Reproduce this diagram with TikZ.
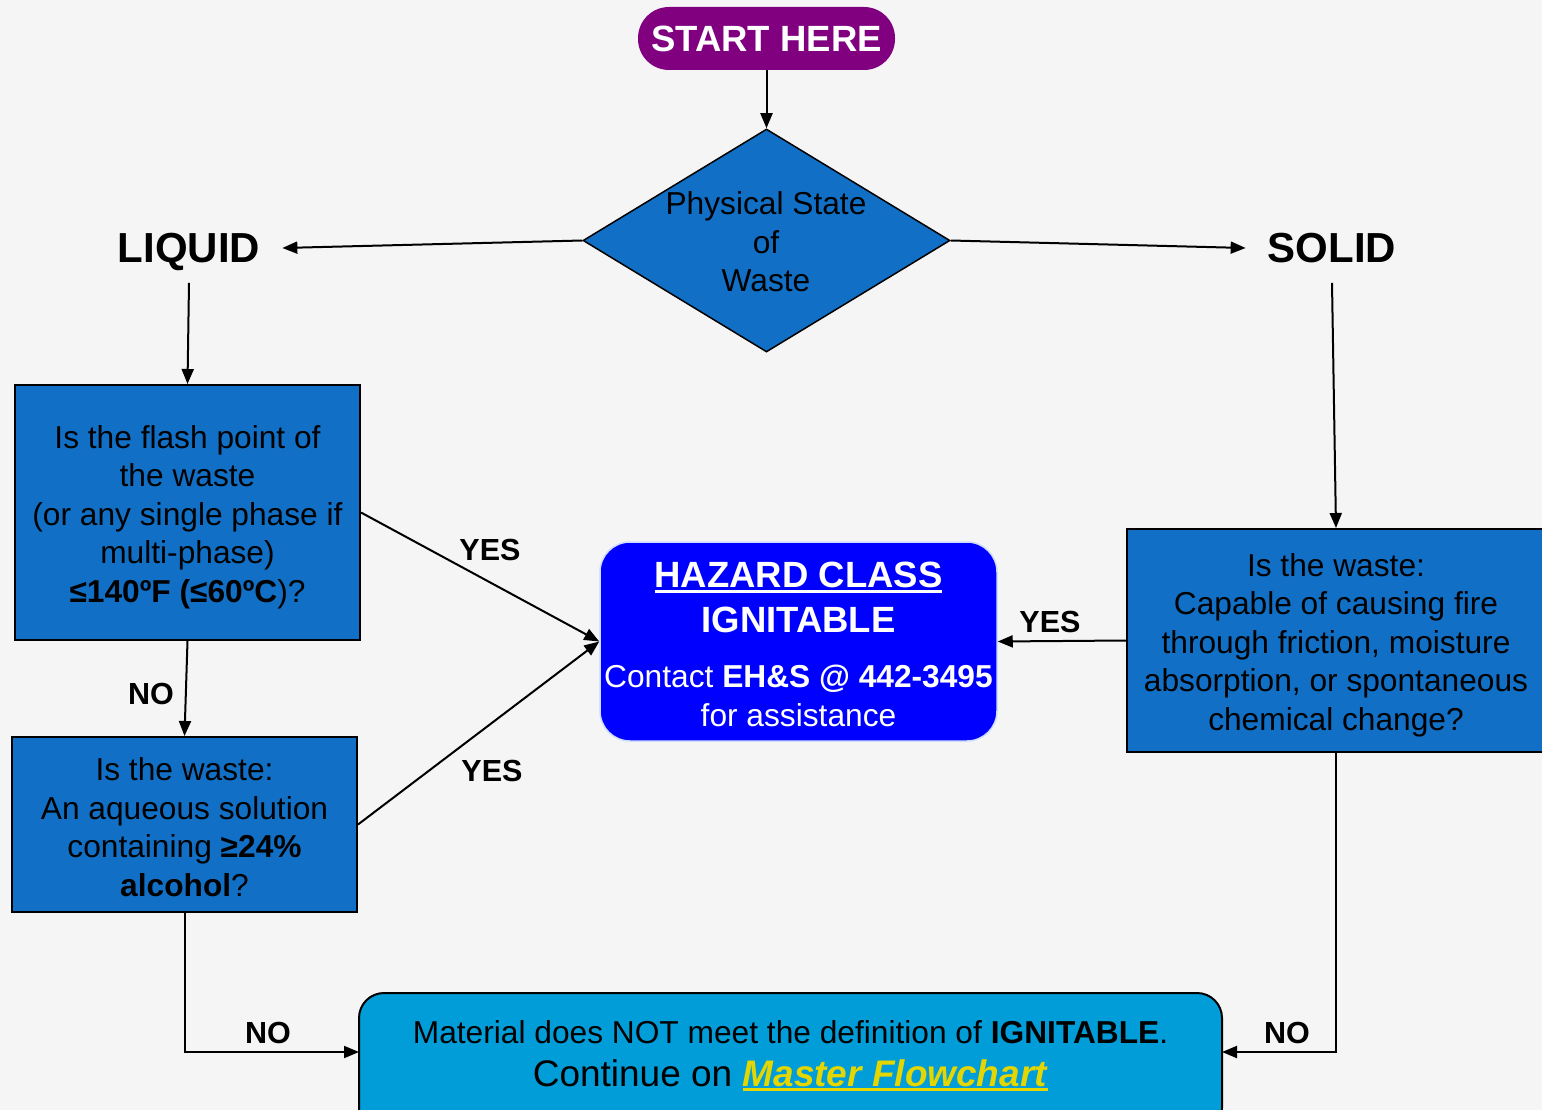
\documentclass[tikz,border=0pt]{standalone}
\usepackage{fontspec}
\setmainfont{Liberation Sans}
\usetikzlibrary{arrows.meta,shapes.geometric}
\definecolor{boxblue}{RGB}{17,112,198}
\definecolor{hazblue}{RGB}{0,0,255}
\definecolor{hazline}{RGB}{205,220,255}
\definecolor{botblue}{RGB}{0,157,217}
\definecolor{startpurple}{RGB}{128,0,128}
\definecolor{linkyellow}{RGB}{228,214,0}
\definecolor{bggray}{RGB}{245,245,245}
\newcommand\thickul[1]{\setbox0\hbox{#1}\rlap{\rule[-5pt]{\wd0}{3pt}}\box0}
\newcommand\bodyfont{\fontsize{31.7}{38.5}\selectfont}
\newcommand\bigfont{\fontsize{36.5}{38}\selectfont\bfseries}
\begin{document}
\begin{tikzpicture}[x=1pt,y=-1pt,
  conn/.style={line width=2pt, -{Triangle[length=15pt,width=12pt]}},
  qbox/.style={draw=black, line width=2pt, fill=boxblue, inner sep=0pt, align=center, font=\bodyfont},
  lbl/.style={font=\fontsize{30.5}{36}\selectfont\bfseries, inner sep=0pt},
  statelbl/.style={font=\fontsize{42}{48}\selectfont\bfseries, text depth=0pt, inner xsep=22pt, inner ysep=20pt}]
\useasboundingbox (0,0) rectangle (1542,1110);
\fill[bggray] (0,0) rectangle (1542,1110);

\node[fill=startpurple, rounded corners=31pt, minimum width=257pt, minimum height=63pt, inner sep=0pt, text=white, font=\bigfont] (start) at (766.5,38.5) {START HERE};

\node[diamond, draw=black, line width=1.5pt, fill=boxblue, minimum width=367pt, minimum height=223pt, inner sep=0pt] (dia) at (766.5,240.5) {};
\node[align=center, font=\bodyfont, inner sep=0pt] (diatext) at (766,242) {Physical State\\of\\Waste};

\node[statelbl] (liq) at (189,248) {LIQUID};
\node[statelbl] (sol) at (1332,248) {SOLID};

\node[qbox, minimum width=345pt, minimum height=255pt] (q1) at (187.5,512.5)
  {\rule{0pt}{32pt}Is the flash point of\\the waste\\(or any single phase if\\multi-phase)\\\textbf{≤140ºF (≤60ºC}{)?}};
\node[qbox, minimum width=345pt, minimum height=175pt] (q2) at (184.5,824.5)
  {\rule{0pt}{28pt}Is the waste:\\An aqueous solution\\containing \textbf{≥24\%}\\\textbf{alcohol}?};
\node[qbox, minimum width=418pt, minimum height=223pt] (rq) at (1336,640.5)
  {\rule{0pt}{32pt}Is the waste:\\Capable of causing fire\\through friction, moisture\\absorption, or spontaneous\\chemical change?};

\node[draw=hazline, line width=1.5pt, fill=hazblue, rounded corners=30pt, minimum width=397pt, minimum height=199pt, inner sep=0pt, align=center, text=white, font=\bodyfont] (haz) at (798.5,641.5)
  {{\bigfont\rule{0pt}{31pt}\thickul{HAZARD CLASS}}\\[6.5pt]{\bigfont IGNITABLE}\\[16.5pt]Contact \textbf{EH\&S @ 442-3495}\\for assistance};

\node[draw=black, line width=2pt, fill=botblue, rounded corners=25pt, minimum width=863pt, minimum height=140pt, inner sep=0pt] (bot) at (790.5,1063) {};
\node[align=center, font=\bodyfont, inner sep=0pt] (bottxt) at (790.5,1056)
  {Material does NOT meet the definition of \textbf{IGNITABLE}.\\[4pt]{\fontsize{37}{38}\selectfont Continue on {\color{linkyellow}\thickul{\textbf{\textit{Master Flowchart}}}}}};

\coordinate (botL) at (359,1052);
\coordinate (botR) at (1222,1052);

\draw[conn] (start) -- (dia);
\draw[conn] (dia.west) -- (liq.east);
\draw[conn] (dia.east) -- (sol.west);
\draw[conn] (liq.south) -- (q1.north);
\draw[conn] (sol.south) -- (rq.north);
\draw[conn] (q1.south) -- (q2.north);
\draw[conn] (q1.east) -- (haz.west);
\draw[conn] (q2.east) -- (haz.west);
\draw[conn] (rq.west) -- (haz.east);
\draw[conn] (q2.south) |- (botL);
\draw[conn] (rq.south) |- (botR);

\node[lbl] (y1) at (490,550) {YES};
\node[lbl] (y2) at (492,771) {YES};
\node[lbl] (y3) at (1050,622) {YES};
\node[lbl] (n1) at (151,694) {NO};
\node[lbl] (n2) at (268,1033) {NO};
\node[lbl] (n3) at (1287,1033) {NO};
\end{tikzpicture}
\end{document}
